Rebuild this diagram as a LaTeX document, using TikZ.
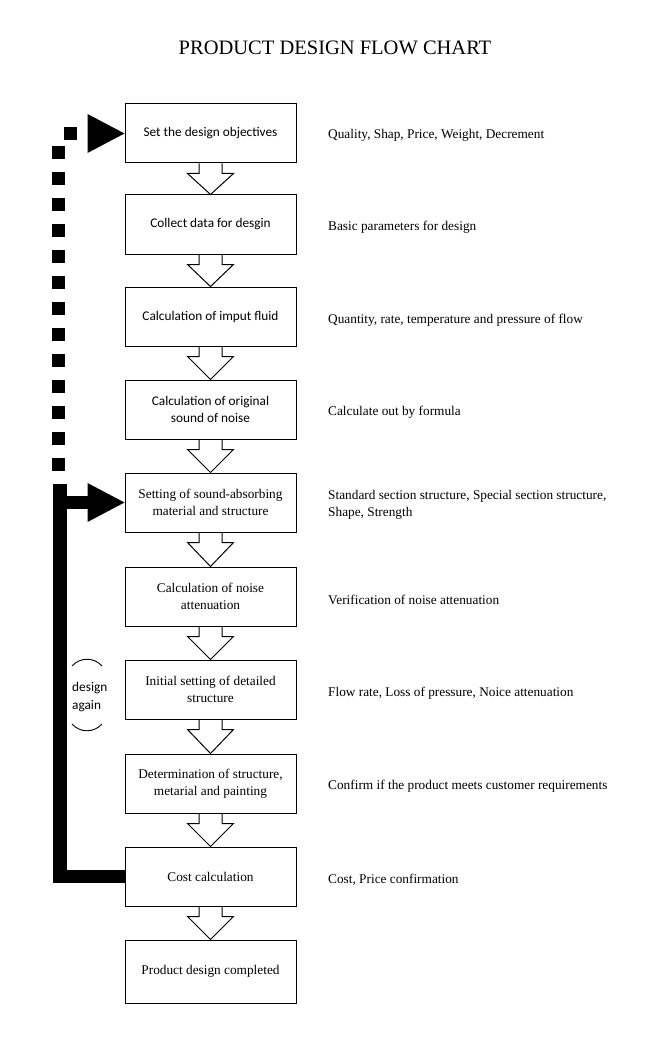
\documentclass[tikz,border=0pt]{standalone}
\usepackage{fontspec}
\setmainfont{Liberation Serif}
\newfontfamily\calibrifont{Carlito}
\usetikzlibrary{calc,arrows.meta}
\tikzset{
  box/.style={draw=black, line width=1pt, fill=white, minimum width=171pt, minimum height=59pt,
    inner sep=0pt, align=center, font=\fontsize{13.3}{17}\selectfont},
  sbox/.style={box, font=\calibrifont\fontsize{13.3}{17}\selectfont},
  note/.style={anchor=west, inner sep=0pt, align=left, font=\fontsize{13.3}{17}\selectfont},
  hollow/.style={draw=black, line width=1pt, line join=miter},
  fb/.style={line width=13.5pt, draw=black},
  dfb/.style={line width=13pt, draw=black, dash pattern=on 13pt off 13pt},
  bigtip/.style={-{Triangle[length=37pt,width=39pt,line width=0pt]}},
}
\newcommand{\hollowarrow}[2]{%
  \draw[hollow] ($(#1.south)+(-11.5,0)$) -- ++(0,10) -- ++(-11.5,0) -- (#2.north)
    -- ($(#1.south)+(23,10)$) -- ++(-11.5,0) -- ($(#1.south)+(11.5,0)$);}
\begin{document}
\begin{tikzpicture}[x=1pt,y=-1pt]
\fill[white] (0,0) rectangle (646,1059);
\useasboundingbox (0,0) rectangle (646,1059);

\node[font=\fontsize{20.5}{24}\selectfont] (title) at (335,48) {PRODUCT DESIGN FLOW CHART};

\node[sbox] (b1) at (210.5,133.5) {Set the design objectives};
\node[sbox] (b2) at (210.5,224.5) {Collect data for desgin};
\node[sbox] (b3) at (210.5,316.5) {Calculation of imput fluid};
\node[sbox] (b4) at (210.5,409.5) {Calculation of original\\sound of noise};
\node[box]  (b5) at (210.5,502.5) {Setting of sound-absorbing\\material and structure};
\node[box]  (b6) at (210.5,596.5) {Calculation of noise\\attenuation};
\node[box]  (b7) at (210.5,689.5) {Initial setting of detailed\\structure};
\node[box]  (b8) at (210.5,783.5) {Determination of structure,\\metarial and painting};
\node[box]  (b9) at (210.5,876.5) {Cost calculation};
\node[box, minimum height=63pt] (b10) at (210.5,971.5) {Product design completed};

\hollowarrow{b1}{b2}
\hollowarrow{b2}{b3}
\hollowarrow{b3}{b4}
\hollowarrow{b4}{b5}
\hollowarrow{b5}{b6}
\hollowarrow{b6}{b7}
\hollowarrow{b7}{b8}
\hollowarrow{b8}{b9}
\hollowarrow{b9}{b10}

\node[note] (n1) at (328,135.5) {Quality, Shap, Price, Weight, Decrement};
\node[note] (n2) at (328,227) {Basic parameters for design};
\node[note] (n3) at (328,320) {Quantity, rate, temperature and pressure of flow};
\node[note] (n4) at (328,412) {Calculate out by formula};
\node[note] (n5) at (328,505) {Standard section structure, Special section structure,\\Shape, Strength};
\node[note] (n6) at (328,599.5) {Verification of noise attenuation};
\node[note] (n7) at (328,693) {Flow rate, Loss of pressure, Noice attenuation};
\node[note] (n8) at (328,786.5) {Confirm if the product meets customer requirements};
\node[note] (n9) at (328,879.5) {Cost, Price confirmation};

% feedback: solid
\coordinate (c1) at (60,876.5);
\coordinate (c2) at (60,484);
\coordinate (c3) at (60,502.5);
\draw[fb] (b9.west) -- (c1) -- (c2);
\draw[fb, bigtip] (c3) -- (b5.west);

% feedback: dashed
\coordinate (d1) at (58.5,471);
\coordinate (d2) at (58.5,146);
\coordinate (d3) at (64,133.5);
\draw[dfb] (d1) -- (d2);
\draw[dfb, dash pattern=on 13pt off 30pt, bigtip] (d3) -- (b1.west);

% design again label
\node[anchor=west, inner sep=0pt, align=left, font=\calibrifont\fontsize{13.3}{18}\selectfont] (da) at (72,697) {design\\again};
\draw[line width=0.9pt] (72,666) .. controls (80,657) and (94,657) .. (102,666);
\draw[line width=0.9pt] (72,724) .. controls (80,733) and (94,733) .. (102,724);
\end{tikzpicture}
\end{document}
